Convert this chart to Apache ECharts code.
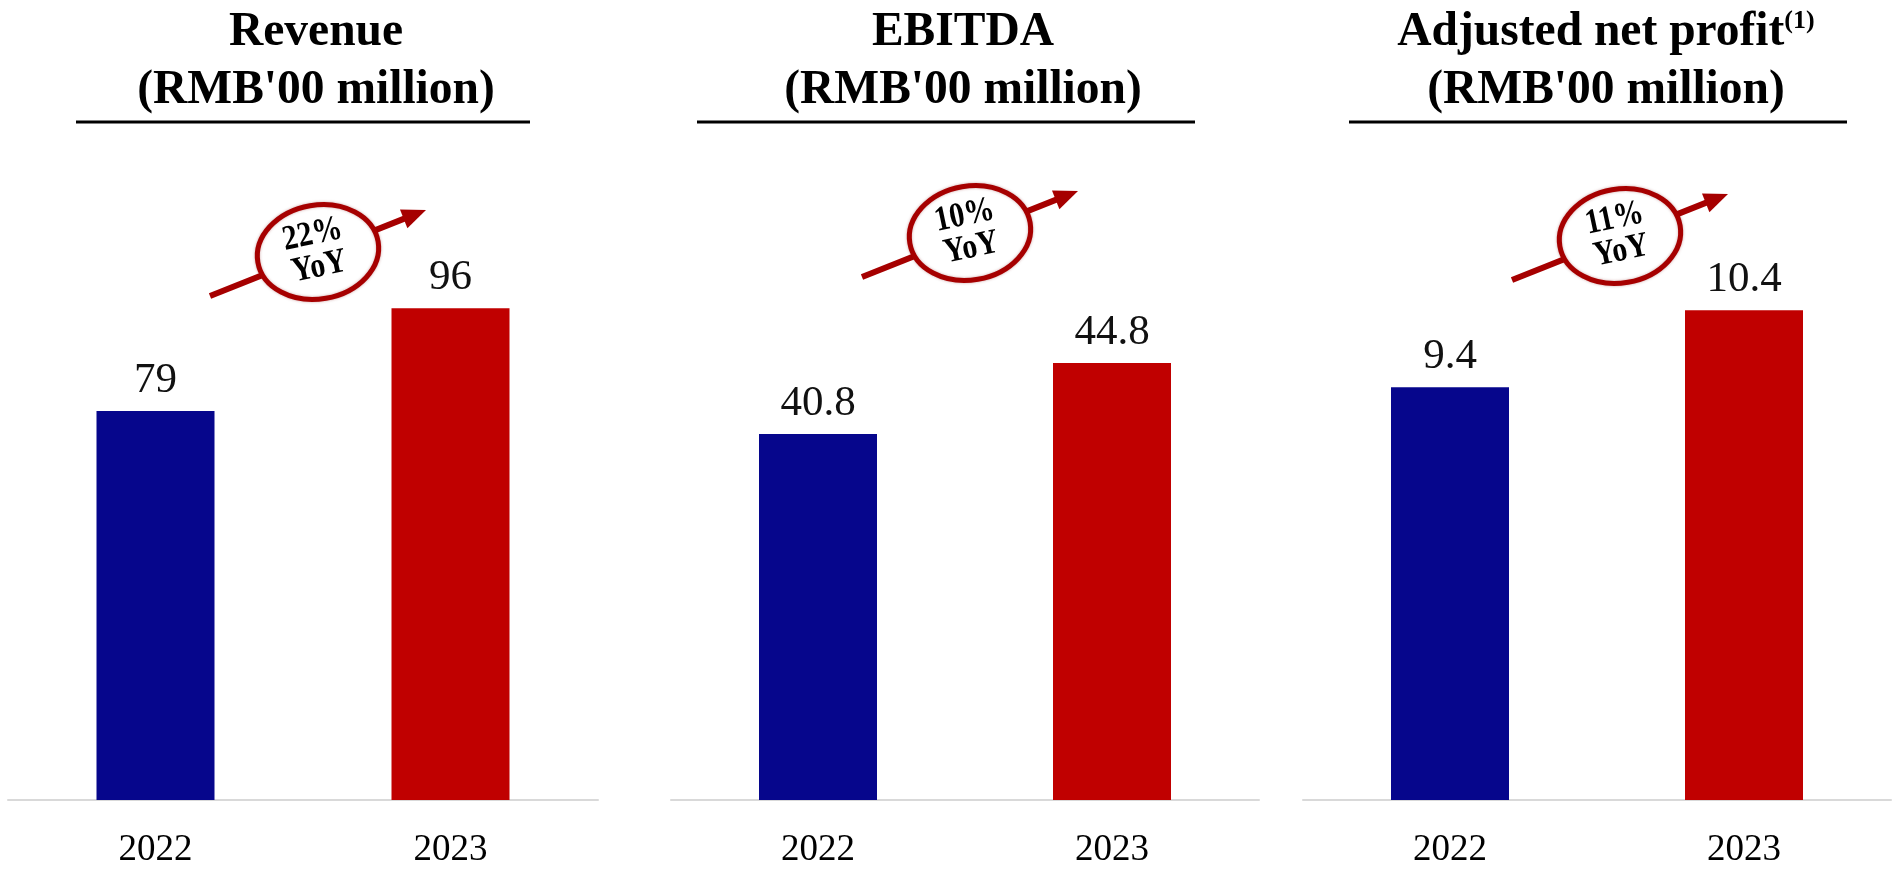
<!DOCTYPE html>
<html>
<head>
<meta charset="utf-8">
<title>Revenue, EBITDA and adjusted net profit, 2022–2023</title>
<script src="https://cdn.jsdelivr.net/npm/echarts@6/dist/echarts.min.js"></script>
<style>
  html, body { margin: 0; padding: 0; background: #ffffff; }
  #chart { width: 1893px; height: 869px; }
</style>
</head>
<body>
<div id="chart"></div>
<script>
// ---- data ----
const years = ['2022', '2023'];
const revenue = [79, 96];
const ebitda = [40.8, 44.8];
const adjustedNetProfit = [9.4, 10.4];
const yoyLabels = ['22%', '10%', '11%'];
const panelTitles = [
  'Revenue\n(RMB\'00 million)',
  'EBITDA\n(RMB\'00 million)',
  'Adjusted net profit{sup|(1)}\n(RMB\'00 million)'
];

// ---- layout ----
const SERIF = '"Liberation Serif", "Times New Roman", "DejaVu Serif", serif';
const BLUE = '#06068C';
const RED = '#C00000';
const BADGE = '#A60000';
const yearColors = [BLUE, RED];

const panels = [
  { values: revenue,           left: 8,    width: 590, min: 14.6, max: 130.5, titleX: 316,  rule: [76, 530] },
  { values: ebitda,            left: 671,  width: 588, min: 20.2, max: 59.6,  titleX: 963,  rule: [697, 1195] },
  { values: adjustedNetProfit, left: 1303, width: 588, min: 4.04, max: 13.13, titleX: 1606, rule: [1349, 1847] }
];
// badge centre: x offset from the midpoint between the two bars, absolute y
const badgeSpots = [[15, 252], [5, 233], [23, 236]];

const chart = echarts.init(document.getElementById('chart'));

const option = {
  backgroundColor: '#ffffff',
  animation: false,
  title: panels.map((p, i) => ({
    text: panelTitles[i],
    left: p.titleX,
    top: 4,
    padding: 0,
    textAlign: 'center',
    textStyle: {
      fontFamily: SERIF,
      fontWeight: 'bold',
      fontSize: 47.5,
      lineHeight: 58,
      color: '#000000',
      rich: {
        sup: {
          fontFamily: SERIF,
          fontWeight: 'bold',
          fontSize: 26,
          lineHeight: 30,
          verticalAlign: 'top',
          padding: [4, 0, 0, 0],
          color: '#000000'
        }
      }
    }
  })),
  grid: panels.map(p => ({ left: p.left, width: p.width, top: 100, bottom: 60 })),
  xAxis: panels.map((p, i) => ({
    type: 'category',
    gridIndex: i,
    data: years,
    axisLine: { show: true, lineStyle: { color: '#D9D9D9', width: 2 } },
    axisTick: { show: false },
    axisLabel: { fontFamily: SERIF, fontSize: 37, color: '#000000', margin: 32 }
  })),
  yAxis: panels.map((p, i) => ({
    type: 'value',
    gridIndex: i,
    min: p.min,
    max: p.max,
    show: false,
    splitLine: { show: false }
  })),
  series: panels.map((p, i) => ({
    type: 'bar',
    xAxisIndex: i,
    yAxisIndex: i,
    barWidth: 118,
    data: p.values.map((v, k) => ({ value: v, itemStyle: { color: yearColors[k] } })),
    label: {
      show: true,
      position: 'top',
      distance: 9,
      fontFamily: SERIF,
      fontSize: 43,
      color: '#111111',
      formatter: d => String(d.value)
    }
  }))
};

chart.setOption(option);

// ---- title rules and YoY badges ----
const graphics = [];
panels.forEach((p, i) => {
  graphics.push({
    type: 'line',
    shape: { x1: p.rule[0], y1: 122, x2: p.rule[1], y2: 122 },
    style: { stroke: '#000000', lineWidth: 3 }
  });

  const a = chart.convertToPixel({ seriesIndex: i }, [0, p.values[0]]);
  const b = chart.convertToPixel({ seriesIndex: i }, [1, p.values[1]]);
  const cx = (a[0] + b[0]) / 2 + badgeSpots[i][0];
  const cy = badgeSpots[i][1];

  // arrow shaft and head, running through the oval
  const sx = cx - 108, sy = cy + 44;
  const ex = cx + 108, ey = cy - 42;
  const ang = Math.atan2(ey - sy, ex - sx);
  const headLen = 24, headHalf = 10;
  const bx = ex - headLen * Math.cos(ang), by = ey - headLen * Math.sin(ang);
  graphics.push({
    type: 'line',
    shape: { x1: sx, y1: sy, x2: bx + 2 * Math.cos(ang), y2: by + 2 * Math.sin(ang) },
    style: { stroke: BADGE, lineWidth: 6 },
    z: 10
  });
  graphics.push({
    type: 'polygon',
    shape: {
      points: [
        [ex, ey],
        [bx - headHalf * Math.sin(ang), by + headHalf * Math.cos(ang)],
        [bx + headHalf * Math.sin(ang), by - headHalf * Math.cos(ang)]
      ]
    },
    style: { fill: BADGE },
    z: 10
  });
  // oval badge
  graphics.push({
    type: 'ellipse',
    x: cx,
    y: cy,
    rotation: 0.17,
    shape: { cx: 0, cy: 0, rx: 61, ry: 47 },
    style: { fill: '#ffffff', stroke: BADGE, lineWidth: 5, shadowBlur: 3, shadowColor: 'rgba(120,0,0,0.35)' },
    z: 11
  });
  graphics.push({
    type: 'text',
    x: cx - 2,
    y: cy - 1,
    rotation: 0.21,
    scaleX: 0.86,
    style: {
      text: yoyLabels[i] + '\nYoY',
      fontFamily: SERIF,
      fontWeight: 'bold',
      fontSize: 35,
      lineHeight: 33,
      fill: '#000000',
      align: 'center',
      verticalAlign: 'middle'
    },
    z: 12
  });
});

chart.setOption({ graphic: graphics });
</script>
</body>
</html>
